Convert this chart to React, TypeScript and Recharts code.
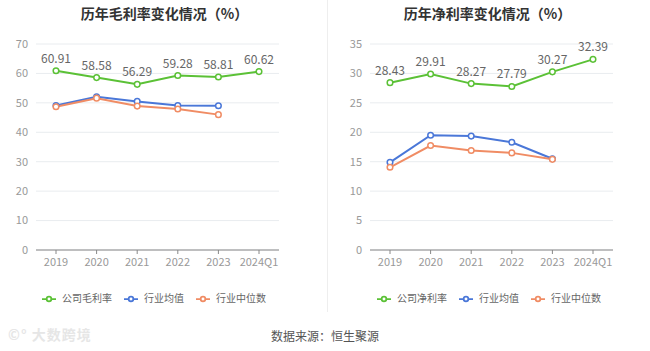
import { CartesianGrid, LabelList, Legend, Line, LineChart, XAxis, YAxis } from "recharts";

const years = ["2019", "2020", "2021", "2022", "2023", "2024Q1"];

const grossCompany = [60.91, 58.58, 56.29, 59.28, 58.81, 60.62];
const grossMean = [49.1, 52.1, 50.5, 49.1, 49.0, null];
const grossMedian = [48.7, 51.6, 48.9, 47.9, 46.0, null];
const grossTicks = [0, 10, 20, 30, 40, 50, 60, 70];

const netCompany = [28.43, 29.91, 28.27, 27.79, 30.27, 32.39];
const netMean = [14.9, 19.5, 19.35, 18.3, 15.5, null];
const netMedian = [14.05, 17.75, 16.9, 16.5, 15.4, null];
const netTicks = [0, 5, 10, 15, 20, 25, 30, 35];

const seriesOrder = ["company", "mean", "median"];

const GREEN = "#5bc136";
const BLUE = "#4a77d8";
const ORANGE = "#f08c64";
const FONT = "'Noto Sans CJK SC', 'Noto Sans', sans-serif";

const grossData = years.map((year, i) => ({
  year,
  company: grossCompany[i],
  mean: grossMean[i],
  median: grossMedian[i],
}));

const netData = years.map((year, i) => ({
  year,
  company: netCompany[i],
  mean: netMean[i],
  median: netMedian[i],
}));

type Row = { year: string; company: number; mean: number | null; median: number | null };

function RateChart({
  data,
  ticks,
  companyName,
  yWidth,
  rightMargin,
  legendWidth,
}: {
  data: Row[];
  ticks: number[];
  companyName: string;
  yWidth: number;
  rightMargin: number;
  legendWidth: number;
}) {
  const dot = (color: string) => ({ r: 2.8, stroke: color, strokeWidth: 1.5, fill: "#fff" });
  return (
    <LineChart
      width={325}
      height={312}
      data={data}
      margin={{ top: 44, right: rightMargin, left: 0, bottom: 37 }}
      style={{ fontFamily: FONT }}
    >
      <CartesianGrid vertical={false} stroke="#e9ecef" />
      <XAxis
        dataKey="year"
        height={25}
        padding={{ left: 20, right: 20 }}
        tick={{ fontSize: 11, fill: "#999" }}
        stroke="#888"
        tickSize={4}
        tickMargin={4}
      />
      <YAxis
        width={yWidth}
        domain={[0, ticks[ticks.length - 1]]}
        ticks={ticks}
        axisLine={false}
        tickLine={false}
        tickMargin={2}
        tick={{ fontSize: 11, fill: "#999" }}
      />
      <Legend
        layout="horizontal"
        verticalAlign="middle"
        align="center"
        iconType="line"
        iconSize={14}
        itemSorter={(item: { dataKey?: unknown }) => seriesOrder.indexOf(String(item.dataKey))}
        wrapperStyle={{ top: 290, left: 0, width: legendWidth, fontSize: 10 }}
        formatter={(value: string) => (
          <span style={{ color: "#666", marginLeft: 2, marginRight: 2 }}>{value}</span>
        )}
      />
      <Line
        type="linear"
        dataKey="company"
        name={companyName}
        stroke={GREEN}
        strokeWidth={2}
        dot={dot(GREEN)}
        isAnimationActive={false}
      >
        <LabelList dataKey="company" position="top" offset={8} style={{ fontSize: 12, fill: "#666" }} />
      </Line>
      <Line
        type="linear"
        dataKey="mean"
        name="行业均值"
        stroke={BLUE}
        strokeWidth={2}
        dot={dot(BLUE)}
        isAnimationActive={false}
      />
      <Line
        type="linear"
        dataKey="median"
        name="行业中位数"
        stroke={ORANGE}
        strokeWidth={2}
        dot={dot(ORANGE)}
        isAnimationActive={false}
      />
    </LineChart>
  );
}

const titleStyle = (left: number): React.CSSProperties => ({
  position: "absolute",
  top: 3,
  left,
  width: 325,
  textAlign: "center",
  fontSize: 14,
  fontWeight: 700,
  color: "#333",
  fontFamily: FONT,
});

export default function App() {
  return (
    <div
      style={{
        position: "absolute",
        top: 0,
        left: 0,
        width: 650,
        height: 351,
        background: "#fff",
        fontFamily: FONT,
      }}
    >
      <div style={titleStyle(2)}>历年毛利率变化情况（%）</div>
      <div style={titleStyle(325)}>历年净利率变化情况（%）</div>
      <div style={{ position: "absolute", top: 0, left: 0 }}>
        <RateChart
          data={grossData}
          ticks={grossTicks}
          companyName="公司毛利率"
          yWidth={36}
          rightMargin={46}
          legendWidth={320}
        />
      </div>
      <div style={{ position: "absolute", top: 0, left: 327, width: 1, height: 312, background: "#eee" }} />
      <div style={{ position: "absolute", top: 0, left: 325 }}>
        <RateChart
          data={netData}
          ticks={netTicks}
          companyName="公司净利率"
          yWidth={45}
          rightMargin={37}
          legendWidth={340}
        />
      </div>
      <div
        style={{
          position: "absolute",
          top: 327,
          left: 0,
          width: 650,
          textAlign: "center",
          fontSize: 12,
          color: "#555",
        }}
      >
        数据来源：恒生聚源
      </div>
      <div
        style={{
          position: "absolute",
          top: 324,
          left: 8,
          fontSize: 14,
          fontWeight: 700,
          color: "#e6e6e6",
          letterSpacing: 1,
        }}
      >
        ©° 大数跨境
      </div>
    </div>
  );
}
